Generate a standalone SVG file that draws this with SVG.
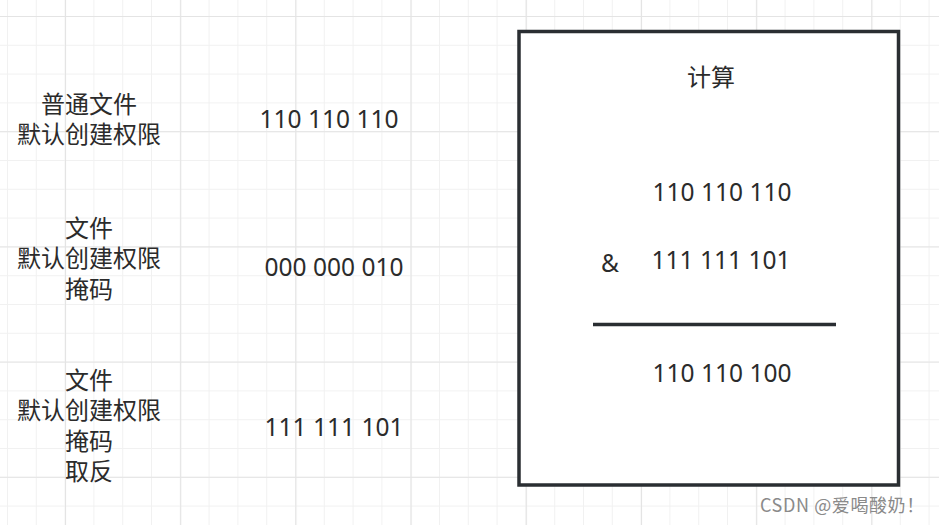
<svg xmlns="http://www.w3.org/2000/svg" width="939" height="525" viewBox="0 0 939 525">
  <style>
    .t { font-family: "Noto Sans CJK SC", "Noto Sans", sans-serif; font-size: 24px; fill: #2b2b2b; text-anchor: middle; }
    .n { font-family: "Noto Sans", "Noto Sans CJK SC", sans-serif; font-size: 24.5px; fill: #2b2b2b; text-anchor: middle; }
    .wm { font-family: "Noto Sans CJK SC", "Noto Sans", sans-serif; font-size: 18px; letter-spacing: 0.6px; fill: #8a8a8a; text-anchor: start; }
  </style>
  <defs>
    <pattern id="minor" x="7" y="16" width="28.8" height="28.8" patternUnits="userSpaceOnUse">
      <path d="M0.5 0 V28.8 M0 0.5 H28.8" fill="none" stroke="#f1f1f1" stroke-width="1"/>
    </pattern>
    <pattern id="major" x="65" y="16" width="115.2" height="115.2" patternUnits="userSpaceOnUse">
      <path d="M0.5 0 V115.2 M0 0.5 H115.2" fill="none" stroke="#e4e4e4" stroke-width="1.2"/>
    </pattern>
  </defs>
  <rect width="939" height="525" fill="#ffffff"/>
  <rect width="939" height="525" fill="url(#minor)"/>
  <rect width="939" height="525" fill="url(#major)"/>

  <g id="label-normal-file">
    <text class="t" x="89" y="113">普通文件</text>
    <text class="t" x="89" y="143">默认创建权限</text>
  </g>
  <g id="value-normal-file">
    <text class="n" x="329" y="128">110 110 110</text>
  </g>

  <g id="label-mask">
    <text class="t" x="89" y="237">文件</text>
    <text class="t" x="89" y="267">默认创建权限</text>
    <text class="t" x="89" y="298">掩码</text>
  </g>
  <g id="value-mask">
    <text class="n" x="334" y="276">000 000 010</text>
  </g>

  <g id="label-mask-inverted">
    <text class="t" x="89" y="389">文件</text>
    <text class="t" x="89" y="419">默认创建权限</text>
    <text class="t" x="89" y="450">掩码</text>
    <text class="t" x="89" y="480">取反</text>
  </g>
  <g id="value-mask-inverted">
    <text class="n" x="334" y="436">111 111 101</text>
  </g>

  <g id="calc-box">
    <rect x="519" y="31.5" width="379.5" height="453.5" fill="#ffffff" stroke="#2a2e32" stroke-width="3.5"/>
    <text class="t" x="711" y="86">计算</text>
    <text class="n" x="722" y="201">110 110 110</text>
    <text class="n" x="610" y="272">&amp;</text>
    <text class="n" x="721" y="269">111 111 101</text>
    <line x1="593" y1="324.5" x2="836" y2="324.5" stroke="#2a2e32" stroke-width="3.5"/>
    <text class="n" x="722" y="382">110 110 100</text>
  </g>

  <g id="connectors"></g>

  <text class="wm" x="760" y="512">CSDN @爱喝酸奶！</text>
</svg>
